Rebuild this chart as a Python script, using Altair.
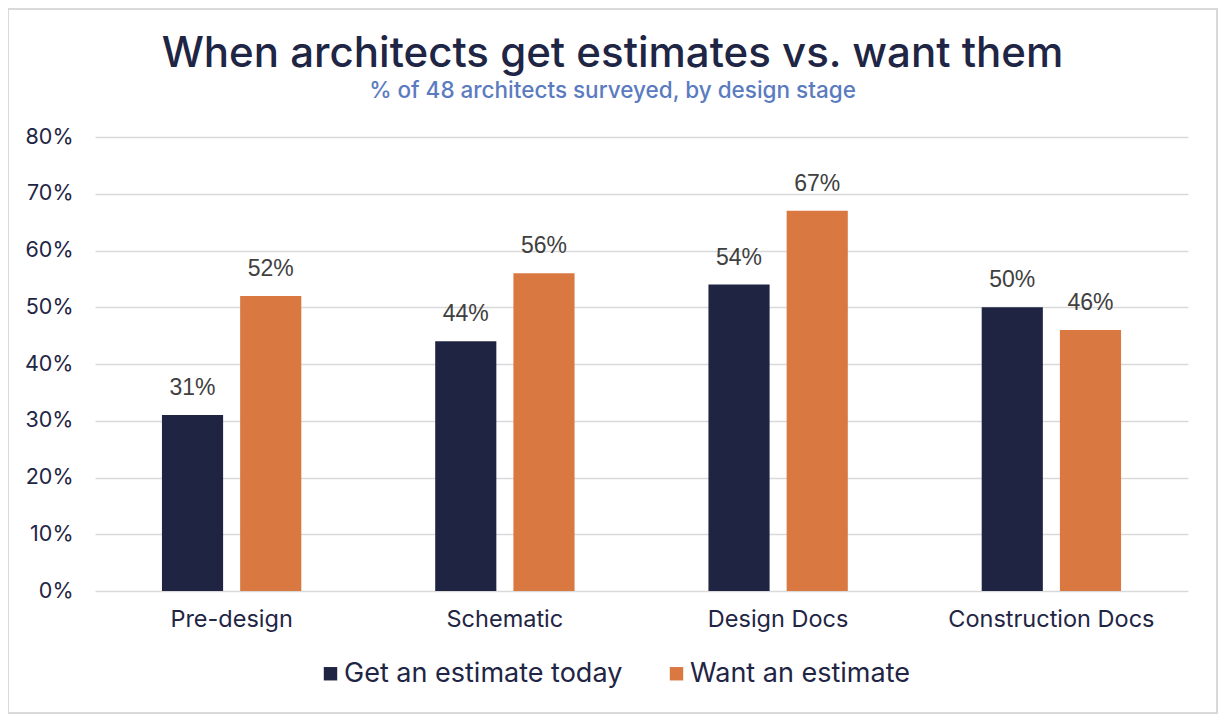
import altair as alt
import pandas as pd

stages = ["Pre-design", "Schematic", "Design Docs", "Construction Docs"]
series = ["Get an estimate today", "Want an estimate"]
get_today = [31, 44, 54, 50]
want_one = [52, 56, 67, 46]
y_ticks = [0, 0.1, 0.2, 0.3, 0.4, 0.5, 0.6, 0.7, 0.8]
colors = ["#1F2442", "#D97841"]

rows = []
for s, g, w in zip(stages, get_today, want_one):
    rows.append({"stage": s, "series": series[0], "value": g / 100, "label": f"{g}%"})
    rows.append({"stage": s, "series": series[1], "value": w / 100, "label": f"{w}%"})
df = pd.DataFrame(rows)

FONT = "Inter"
NAVY = "#1F2544"
GRID = "#D9D9D9"

base = alt.Chart(df).encode(
    x=alt.X(
        "stage:N",
        sort=stages,
        scale=alt.Scale(paddingInner=0.49, paddingOuter=0.245),
        axis=alt.Axis(
            title=None, labelAngle=0, labelFontSize=23.5, labelColor=NAVY,
            labelFont=FONT, labelPadding=16, ticks=False, domain=False,
            labelLimit=500,
        ),
    ),
    xOffset=alt.XOffset("series:N", sort=series,
                        scale=alt.Scale(paddingInner=0.218, paddingOuter=0)),
)

bars = base.mark_bar().encode(
    y=alt.Y(
        "value:Q",
        scale=alt.Scale(domain=[0, 0.8]),
        axis=alt.Axis(
            title=None, format=".0%", values=y_ticks, labelFontSize=21.5,
            labelColor=NAVY, labelFont=FONT, labelPadding=22, ticks=False,
            domain=False, grid=True, gridColor=GRID, gridWidth=1.6,
        ),
    ),
    color=alt.Color(
        "series:N",
        sort=series,
        scale=alt.Scale(domain=series, range=colors),
        legend=alt.Legend(
            title=None, orient="none", direction="horizontal",
            legendX=222, legendY=523, symbolType="square", symbolSize=180,
            symbolStrokeWidth=0, symbolOpacity=1, labelFontSize=27,
            labelFont=FONT, labelColor=NAVY, labelLimit=500,
            labelOffset=0, columnPadding=40,
        ),
    ),
)

labels = base.mark_text(
    dy=-20, fontSize=23, font="Liberation Sans", color="#404040",
    baseline="alphabetic",
).encode(y="value:Q", text="label:N")

frame = alt.Chart(pd.DataFrame({"a": [0]})).mark_rect(
    filled=False, stroke=GRID, strokeWidth=2
).encode(
    x=alt.value(-87), x2=alt.value(1122), y=alt.value(-128), y2=alt.value(576)
)

chart = alt.layer(frame, bars, labels).properties(
    width=1093,
    height=454,
    background="white",
    autosize=alt.AutoSizeParams(type="none"),
    padding={"left": 87, "top": 129, "right": 30, "bottom": 125},
    title=alt.TitleParams(
        text="When architects get estimates vs. want them",
        subtitle="% of 48 architects surveyed, by design stage",
        font=FONT, fontSize=42, fontWeight=500, color=NAVY,
        subtitleFont=FONT, subtitleFontSize=22.5, subtitleFontWeight=500,
        subtitleColor="#5B7BC0", anchor="middle", offset=-95, dx=-29,
        subtitlePadding=4,
    ),
).configure_view(strokeWidth=0)

chart.save("out.html", embed_options={"renderer": "svg", "actions": False})
